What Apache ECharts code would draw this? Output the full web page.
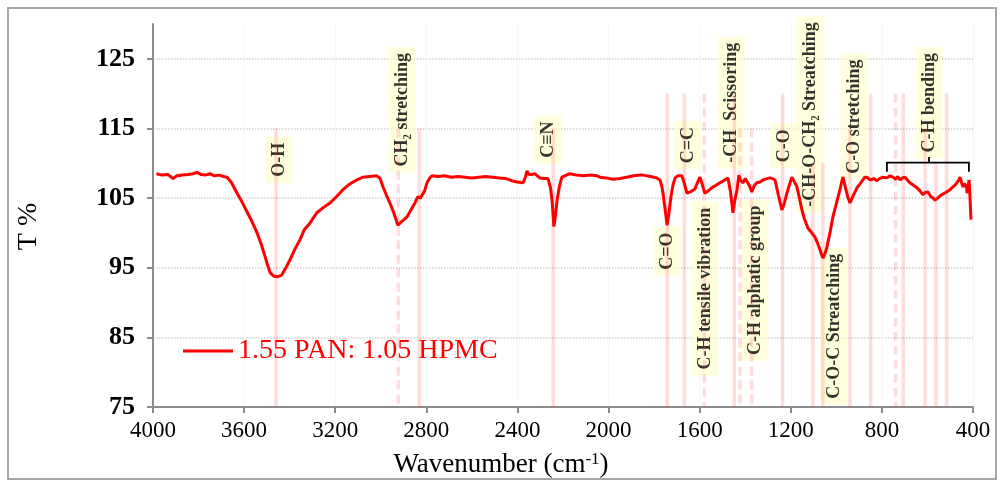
<!DOCTYPE html>
<html><head><meta charset="utf-8">
<script src="https://cdn.jsdelivr.net/npm/echarts@6/dist/echarts.min.js"></script>
<style>html,body{margin:0;padding:0;background:#fff}#c{width:1000px;height:484px}</style>
</head><body><div id="c"></div>
<script>
// ---- data ----
const seriesName = '1.55 PAN: 1.05 HPMC';
const xTicks = [4000, 3600, 3200, 2800, 2400, 2000, 1600, 1200, 800, 400];
const yTicks = [75, 85, 95, 105, 115, 125];
const wavenumber = [3985,3960,3935,3912,3895,3870,3845,3825,3807,3790,3770,3750,3730,3710,3690,3675,3655,3631,3610,3587,3565,3543,3525,3508,3495,3486,3470,3456,3445,3434,3420,3399,3378,3355,3335,3311,3295,3281,3250,3223,3195,3166,3145,3122,3100,3078,3050,3017,3003,2990,2975,2960,2942,2925,2912,2898,2885,2866,2850,2837,2826,2819,2808,2797,2785,2775,2750,2720,2690,2660,2630,2600,2570,2540,2510,2480,2450,2425,2402,2375,2365,2358,2350,2345,2335,2323,2310,2301,2280,2266,2255,2248,2240,2233,2226,2215,2205,2185,2170,2140,2110,2080,2050,2038,2010,1980,1950,1920,1890,1860,1849,1815,1790,1774,1765,1761,1752,1743,1735,1726,1717,1708,1695,1678,1668,1656,1640,1621,1610,1599,1590,1577,1560,1546,1530,1511,1495,1476,1465,1454,1445,1436,1428,1420,1410,1400,1393,1382,1371,1360,1349,1335,1322,1305,1291,1280,1269,1255,1239,1228,1217,1205,1195,1185,1173,1162,1151,1140,1125,1110,1094,1082,1072,1065,1059,1050,1041,1028,1015,1000,984,978,971,960,950,940,925,909,890,875,866,850,835,822,810,795,778,765,751,740,730,720,710,699,688,677,660,646,632,620,609,598,585,575,567,555,545,536,520,501,488,478,471,464,457,450,444,438,431,428,426,422,417,413,409];
const transmittance = [108.5,108.3,108.4,107.8,108.2,108.3,108.4,108.5,108.7,108.4,108.3,108.5,108.2,108.3,108.1,108.0,107.2,105.7,104.5,103.0,101.6,100.0,98.4,96.6,95.2,94.3,93.8,93.7,93.8,94.0,94.8,96.1,97.6,99.0,100.5,101.4,102.2,102.9,103.7,104.3,105.2,106.2,106.8,107.3,107.7,108.0,108.1,108.2,107.8,106.6,105.4,104.3,102.8,101.1,101.5,101.9,102.3,103.4,104.3,105.2,105.0,105.0,106.0,107.2,107.9,108.2,108.1,108.2,108.0,108.1,108.0,107.9,108.0,108.1,108.0,107.9,107.8,107.5,107.3,107.2,108.0,108.9,108.4,108.2,108.4,108.5,108.1,107.9,107.8,107.8,106.5,104.7,100.9,102.5,104.7,106.8,108.0,108.3,108.5,108.3,108.2,108.3,108.2,108.0,107.9,107.7,107.8,108.0,108.2,108.3,108.3,108.1,107.9,107.6,106.5,105.7,103.5,101.1,102.8,105.2,106.9,107.9,108.2,108.2,107.2,105.7,105.9,106.3,107.2,108.0,107.1,105.7,106.1,106.5,106.8,107.2,107.5,107.9,106.0,102.9,104.8,106.2,108.3,107.5,107.2,107.8,107.9,106.8,105.9,106.8,107.2,107.3,107.6,107.8,107.9,107.8,107.6,105.5,103.3,104.3,105.7,107.0,108.0,107.4,106.6,105.0,103.3,102.0,100.7,100.1,99.4,98.5,97.6,96.9,96.4,97.0,98.0,100.0,102.3,104.2,106.2,107.1,108.0,106.5,105.2,104.3,105.4,106.5,107.3,108.0,108.0,107.6,107.8,107.5,107.8,108.0,107.9,108.2,108.0,107.7,108.1,107.6,107.9,108.0,107.6,107.2,106.8,106.5,106.0,105.5,105.8,105.9,105.2,105.0,104.7,105.0,105.3,105.5,105.8,106.2,106.6,106.9,107.2,107.5,108.0,107.2,106.6,107.1,107.3,106.5,105.7,106.8,107.6,105.0,101.9];

// reference band lines: wavenumber, top value, dashed
const bandWave = [3460, 2923, 2831, 2243, 1742, 1667, 1580, 1448, 1423, 1372, 1236, 1103, 1059, 940, 849, 740, 706, 610, 563, 516];
const bandTop  = [115, 115, 115, 115, 120, 120, 120, 120, 115, 115, 120, 110, 110, 115, 120, 120, 120, 115, 110, 120];
const bandDash = [0, 1, 0, 0, 0, 0, 1, 0, 1, 1, 0, 0, 0, 0, 0, 1, 0, 0, 0, 0];

// annotation labels: text, centre wavenumber, centre value
const annText = ['O-H', 'CH\u2082 stretching', 'C\u2261N', 'C=O', 'C=C', 'C-H tensile vibration', '-CH  Scissoring', 'C-H alphatic group', 'C-O', '-CH-O-CH\u2082 Streatching', 'C-O-C Streatching', 'C-O stretching', 'C-H bending'];
const annWave = [3447, 2907, 2266, 1743, 1651, 1577, 1463, 1357, 1230, 1116, 1010, 923, 593];
const annValue = [110.5, 117.7, 113.4, 97.4, 112.6, 92.0, 118.7, 93.2, 112.5, 117.0, 86.6, 116.7, 118.7];

// bracket for C-H bending range
const bracketFrom = 778, bracketTo = 418, bracketMid = 593;
const bracketLevel = 110.1, bracketEnd = 108.8, bracketPeak = 110.9;

// ---- chart ----
const FONT = 'Liberation Serif, Times New Roman, serif';
const chart = echarts.init(document.getElementById('c'), null, {renderer: 'canvas'});

const curve = wavenumber.map((w, i) => [w, transmittance[i]]);
const bands = bandWave.map((w, i) => [w, bandTop[i], bandDash[i]]);
const anns = annText.map((t, i) => [annWave[i], annValue[i], t]);

chart.setOption({
  animation: false,
  backgroundColor: '#fff',
  graphic: [{
    type: 'rect', shape: {x: 8, y: 8, width: 988, height: 471},
    style: {fill: 'none', stroke: '#a6a6a6', lineWidth: 2}, silent: true, z: -10
  }],
  grid: {left: 153, right: 27, top: 24, bottom: 77},
  legend: {
    left: 183, top: 337, padding: 0,
    data: [{name: seriesName, icon: 'rect'}],
    itemWidth: 50, itemHeight: 3, itemGap: 6,
    textStyle: {color: '#ff0000', fontFamily: FONT, fontSize: 28}
  },
  xAxis: {
    type: 'value', inverse: true, min: 400, max: 4000, interval: 400,
    name: 'Wavenumber (cm{sup|-1})', nameLocation: 'middle', nameGap: 44,
    nameTextStyle: {color: '#000', fontFamily: FONT, fontSize: 27, padding: [0, 124, 0, 0],
      rich: {sup: {fontFamily: FONT, fontSize: 17, verticalAlign: 'top', color: '#000'}}},
    axisLine: {show: true, lineStyle: {color: '#8c8c8c', width: 2}},
    axisTick: {show: true, length: 6, lineStyle: {color: '#8c8c8c', width: 2}},
    axisLabel: {color: '#000', fontFamily: FONT, fontSize: 23, margin: 12,
      formatter: v => xTicks.includes(v) ? String(v) : ''},
    splitLine: {show: true, lineStyle: {color: '#f0f0f0', type: 'dotted', width: 1}}
  },
  yAxis: {
    type: 'value', min: 75, max: 130, interval: 10,
    name: 'T %', nameLocation: 'middle', nameGap: 110, nameRotate: 90,
    nameTextStyle: {color: '#000', fontFamily: FONT, fontSize: 28, padding: [0, 22, 0, 0]},
    axisLine: {show: true, lineStyle: {color: '#8c8c8c', width: 2}},
    axisTick: {show: true, length: 6, lineStyle: {color: '#8c8c8c', width: 2}},
    axisLabel: {color: '#000', fontFamily: FONT, fontSize: 26, fontWeight: 'bold', margin: 18,
      showMaxLabel: false, formatter: v => yTicks.includes(v) ? String(v) : ''},
    splitLine: {show: true, showMinLine: false, showMaxLine: false,
      lineStyle: {color: '#cfcfcf', type: 'dotted', width: 1.5}}
  },
  series: [
    {
      name: 'labels', type: 'scatter', data: anns, symbolSize: 1, z: 2,
      itemStyle: {color: 'rgba(0,0,0,0)'}, silent: true,
      label: {
        show: true, position: 'inside', rotate: 90,
        formatter: p => p.data[2],
        color: '#000', fontFamily: FONT, fontWeight: 'bold', fontSize: 18,
        backgroundColor: 'rgba(255,255,200,0.75)', padding: [4, 6, 3, 6], lineHeight: 20
      }
    },
    {
      name: 'bands', type: 'custom', data: bands, z: 3, silent: true,
      renderItem: (params, api) => {
        const top = api.coord([api.value(0), api.value(1)]);
        const bot = api.coord([api.value(0), 75]);
        return {
          type: 'line',
          shape: {x1: top[0], y1: top[1], x2: bot[0], y2: bot[1]},
          style: {stroke: 'rgba(255,60,60,0.18)', lineWidth: 3.5,
            lineDash: api.value(2) ? [9, 5] : null}
        };
      }
    },
    {
      name: 'bracket', type: 'custom', data: [[bracketFrom, bracketTo, bracketMid]], z: 4, silent: true,
      renderItem: (params, api) => {
        const a = api.coord([bracketFrom, bracketEnd]);
        const b = api.coord([bracketFrom, bracketLevel]);
        const c = api.coord([bracketTo, bracketLevel]);
        const d = api.coord([bracketTo, bracketEnd]);
        const m1 = api.coord([bracketMid, bracketLevel]);
        const m2 = api.coord([bracketMid, bracketPeak]);
        return {type: 'group', children: [
          {type: 'polyline', shape: {points: [a, b, c, d]}, style: {stroke: '#000', lineWidth: 1.8, fill: null}},
          {type: 'line', shape: {x1: m1[0], y1: m1[1], x2: m2[0], y2: m2[1]}, style: {stroke: '#000', lineWidth: 1.8}}
        ]};
      }
    },
    {
      name: seriesName, type: 'line', data: curve, z: 5,
      showSymbol: false, symbol: 'none', smooth: false,
      lineStyle: {color: '#ff0000', width: 3}, itemStyle: {color: '#ff0000'}
    }
  ]
});
</script>
</body></html>
